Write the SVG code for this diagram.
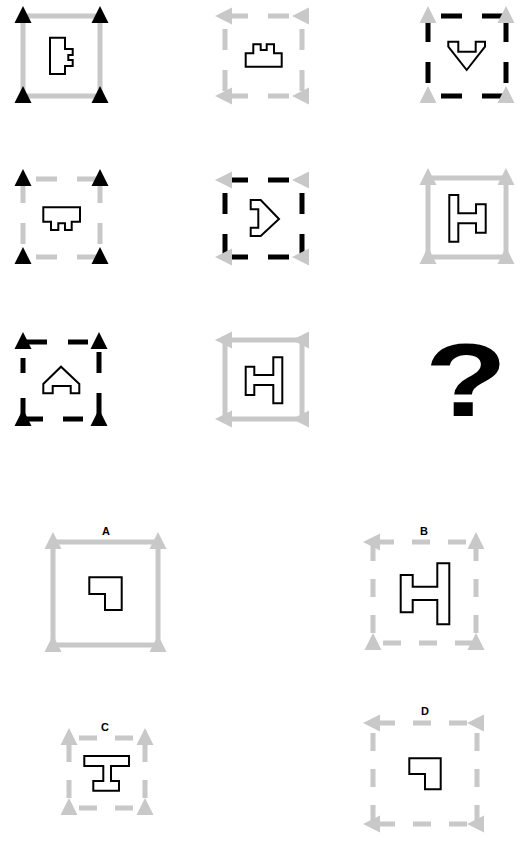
<svg xmlns="http://www.w3.org/2000/svg" xmlns:xlink="http://www.w3.org/1999/xlink" width="529" height="844" viewBox="0 0 529 844">
<style>
.gs{fill:none;stroke:#c8c8c8;stroke-width:5}
.gd{fill:none;stroke:#c8c8c8;stroke-width:5;stroke-dasharray:21 20;stroke-dashoffset:28}
.bd{fill:none;stroke:#000;stroke-width:5;stroke-dasharray:21 20;stroke-dashoffset:28}
.bl{fill:none;stroke:#000;stroke-width:5}
.od{fill:none;stroke:#c8c8c8;stroke-width:5;stroke-dasharray:18 18;stroke-dashoffset:26}
.tb{fill:#000}
.tg{fill:#c8c8c8}
.sh{fill:#fff;stroke:#000;stroke-width:2;stroke-linejoin:miter}
.lb{font-family:"Liberation Sans",Arial,sans-serif;font-weight:bold;font-size:11px;text-anchor:middle;fill:#000}
</style>
<defs>
<path id="tu" d="M0,-10 L8.5,7 L-8.5,7 Z"/>
<path id="tl" d="M-10,0 L7,-8.5 L7,8.5 Z"/>
</defs>
<rect width="529" height="844" fill="#fff"/>

<g id="cell1">
<rect class="gs" x="23" y="16" width="77" height="80"/>
<use href="#tu" class="tb" x="23" y="16"/><use href="#tu" class="tb" x="100" y="16"/>
<use href="#tu" class="tb" x="23" y="96"/><use href="#tu" class="tb" x="100" y="96"/>
<polygon class="sh" points="50,37.7 65,37.7 65,49 72.7,49 72.7,55 68.3,55 68.3,60 72.7,60 72.7,66 65,66 65,74 50,74"/>
</g>

<g id="cell2">
<line class="gd" x1="302" y1="16" x2="225" y2="16"/>
<line class="gd" x1="302" y1="96" x2="225" y2="96"/>
<line class="gd" x1="225" y1="16" x2="225" y2="96"/>
<line class="gd" x1="302" y1="16" x2="302" y2="96"/>
<use href="#tl" class="tg" x="225" y="16"/><use href="#tl" class="tg" x="302" y="16"/>
<use href="#tl" class="tg" x="225" y="96"/><use href="#tl" class="tg" x="302" y="96"/>
<polygon class="sh" points="245.7,66.7 245.7,53.3 253.3,53.3 253.3,44.3 260.7,44.3 260.7,50 266.7,50 266.7,44.3 274,44.3 274,53.3 281.7,53.3 281.7,66.7"/>
</g>

<g id="cell3">
<line class="bd" x1="428" y1="16" x2="506" y2="16"/>
<line class="bd" x1="428" y1="96" x2="506" y2="96"/>
<line class="bd" x1="428" y1="96" x2="428" y2="16"/>
<line class="bd" x1="506" y1="96" x2="506" y2="16"/>
<use href="#tu" class="tg" x="428" y="16"/><use href="#tu" class="tg" x="506" y="16"/>
<use href="#tu" class="tg" x="428" y="96"/><use href="#tu" class="tg" x="506" y="96"/>
<polygon class="sh" points="448.3,41.7 458.3,41.7 458.3,51.7 475.7,51.7 475.7,41.7 485,41.7 485,46.7 466.7,70 448.3,46.7"/>
</g>

<g id="cell4">
<line class="gd" x1="23" y1="179" x2="100" y2="179"/>
<line class="gd" x1="23" y1="257" x2="100" y2="257"/>
<line class="gd" x1="23" y1="257" x2="23" y2="179"/>
<line class="gd" x1="100" y1="257" x2="100" y2="179"/>
<use href="#tu" class="tb" x="23" y="179"/><use href="#tu" class="tb" x="100" y="179"/>
<use href="#tu" class="tb" x="23" y="257"/><use href="#tu" class="tb" x="100" y="257"/>
<polygon class="sh" points="43.3,207.3 80,207.3 80,221.7 71.7,221.7 71.7,230 65,230 65,223.3 58.3,223.3 58.3,230 51,230 51,221.7 43.3,221.7"/>
</g>

<g id="cell5">
<line class="bd" x1="302" y1="180" x2="225" y2="180"/>
<line class="bd" x1="302" y1="257" x2="225" y2="257"/>
<line class="bd" x1="225" y1="180" x2="225" y2="257"/>
<line class="bd" x1="302" y1="180" x2="302" y2="257"/>
<use href="#tl" class="tg" x="225" y="180"/><use href="#tl" class="tg" x="302" y="180"/>
<use href="#tl" class="tg" x="225" y="257"/><use href="#tl" class="tg" x="302" y="257"/>
<polygon class="sh" points="250.7,200 260.7,200 279,219 260.7,236 250.7,236 250.7,227.7 258.3,227.7 258.3,209.3 250.7,209.3"/>
</g>

<g id="cell6">
<rect class="gs" x="428" y="178" width="78" height="79"/>
<use href="#tu" class="tg" x="428" y="178"/><use href="#tu" class="tg" x="506" y="178"/>
<use href="#tu" class="tg" x="428" y="257"/><use href="#tu" class="tg" x="506" y="257"/>
<polygon class="sh" points="449.3,195 458.3,195 458.3,213.3 476,213.3 476,204.3 485.7,204.3 485.7,232.7 476,232.7 476,223.3 458.3,223.3 458.3,241.7 449.3,241.7"/>
</g>

<g id="cell7">
<line class="bl" x1="23" y1="342" x2="47" y2="342"/>
<line class="bl" x1="68" y1="342" x2="88" y2="342"/>
<line class="bl" x1="23" y1="358" x2="23" y2="373"/>
<line class="bl" x1="23" y1="398" x2="23" y2="420"/>
<line class="bl" x1="99" y1="352" x2="99" y2="373"/>
<line class="bl" x1="99" y1="393" x2="99" y2="420"/>
<line class="bl" x1="23" y1="419" x2="43" y2="419"/>
<line class="bl" x1="63" y1="419" x2="83" y2="419"/>
<use href="#tu" class="tb" x="23" y="342"/><use href="#tu" class="tb" x="99" y="342"/>
<use href="#tu" class="tb" x="23" y="419"/><use href="#tu" class="tb" x="99" y="419"/>
<polygon class="sh" points="43.3,393.3 43.3,384 61,366.7 79.3,384 79.3,393.3 70.7,393.3 70.7,386 52.7,386 52.7,393.3"/>
</g>

<g id="cell8">
<rect class="gs" x="225" y="340" width="77" height="79"/>
<use href="#tl" class="tg" x="225" y="340"/><use href="#tl" class="tg" x="302" y="340"/>
<use href="#tl" class="tg" x="225" y="419"/><use href="#tl" class="tg" x="302" y="419"/>
<polygon class="sh" points="245.7,366.7 254.3,366.7 254.3,375 273.3,375 273.3,357.3 282.3,357.3 282.3,403.3 273.3,403.3 273.3,385 254.3,385 254.3,395 245.7,395"/>
</g>

<g id="cell9">
<text x="0" y="416" transform="translate(466,0) scale(1.3,1)" font-family="'Liberation Sans',Arial,sans-serif" font-weight="bold" font-size="104" text-anchor="middle">?</text>
</g>

<g id="optA">
<text class="lb" x="106" y="535">A</text>
<rect class="gs" x="53" y="542" width="105" height="103"/>
<use href="#tu" class="tg" x="53" y="542"/><use href="#tu" class="tg" x="158" y="542"/>
<use href="#tu" class="tg" x="53" y="645"/><use href="#tu" class="tg" x="158" y="645"/>
<polygon class="sh" points="89.3,577.3 121.7,577.3 121.7,610 105,610 105,594 89.3,594"/>
</g>

<g id="optB">
<text class="lb" x="424" y="535">B</text>
<line class="od" x1="476" y1="542" x2="373" y2="542"/>
<line class="od" x1="373" y1="643" x2="476" y2="643"/>
<line class="od" x1="373" y1="643" x2="373" y2="542"/>
<line class="od" x1="476" y1="643" x2="476" y2="542"/>
<use href="#tl" class="tg" x="373" y="542"/><use href="#tu" class="tg" x="476" y="542"/>
<use href="#tu" class="tg" x="373" y="643"/><use href="#tu" class="tg" x="476" y="643"/>
<polygon class="sh" points="400.7,575 412.7,575 412.7,586.7 437.3,586.7 437.3,563.3 449.3,563.3 449.3,624.3 437.3,624.3 437.3,600 412.7,600 412.7,612.3 400.7,612.3"/>
</g>

<g id="optC">
<text class="lb" x="105" y="731">C</text>
<line class="od" x1="69" y1="738" x2="145" y2="738"/>
<line class="od" x1="69" y1="808" x2="145" y2="808"/>
<line class="od" x1="69" y1="808" x2="69" y2="738"/>
<line class="od" x1="145" y1="808" x2="145" y2="738"/>
<use href="#tu" class="tg" x="69" y="738"/><use href="#tu" class="tg" x="145" y="738"/>
<use href="#tu" class="tg" x="69" y="808"/><use href="#tu" class="tg" x="145" y="808"/>
<polygon class="sh" points="84.3,756 129,756 129,766 111,766 111,781 119,781 119,790.7 93.3,790.7 93.3,781 103.3,781 103.3,766 84.3,766"/>
</g>

<g id="optD">
<text class="lb" x="425" y="715">D</text>
<line class="od" x1="477" y1="723" x2="373" y2="723"/>
<line class="od" x1="477" y1="824" x2="373" y2="824"/>
<line class="od" x1="373" y1="723" x2="373" y2="824"/>
<line class="od" x1="477" y1="723" x2="477" y2="824"/>
<use href="#tl" class="tg" x="373" y="723"/><use href="#tl" class="tg" x="477" y="723"/>
<use href="#tl" class="tg" x="373" y="824"/><use href="#tl" class="tg" x="477" y="824"/>
<polygon class="sh" points="409.3,758.3 440.7,758.3 440.7,789.3 425,789.3 425,774 409.3,774"/>
</g>
</svg>
